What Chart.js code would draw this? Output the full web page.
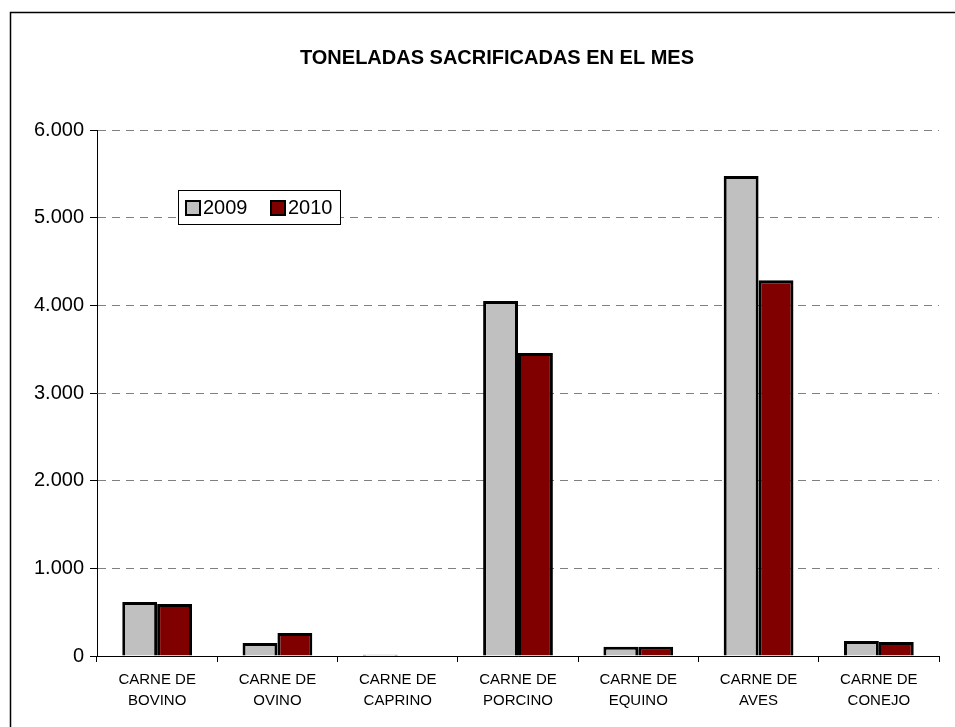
<!DOCTYPE html>
<html>
<head>
<meta charset="utf-8">
<script src="https://cdn.jsdelivr.net/npm/chart.js@4"></script>
<style>
    body { margin: 0; background: #fff; }
    canvas { display: block; }
</style>
</head>
<body>
<canvas id="chart" width="955" height="727"></canvas>
<script>
const categories = [
    ["CARNE DE", "BOVINO"],
    ["CARNE DE", "OVINO"],
    ["CARNE DE", "CAPRINO"],
    ["CARNE DE", "PORCINO"],
    ["CARNE DE", "EQUINO"],
    ["CARNE DE", "AVES"],
    ["CARNE DE", "CONEJO"]
];
const values2009 = [616, 148, 15, 4049, 106, 5475, 171];
const values2010 = [593, 262, 0, 3456, 105, 4285, 160];
const yTicks = [0, 1000, 2000, 3000, 4000, 5000, 6000];

const fontFamily = "'Liberation Sans', Arial, sans-serif";

function formatThousands(v) {
    return String(v).replace(/\B(?=(\d{3})+(?!\d))/g, ".");
}

// frame, title and the boxed legend are drawn by hand like the Excel original
const decorations = {
    id: "decorations",
    beforeDraw(chart) {
        const ctx = chart.ctx;
        ctx.save();
        ctx.fillStyle = "#fff";
        ctx.fillRect(0, 0, chart.width, chart.height);
        ctx.strokeStyle = "#000";
        ctx.lineWidth = 1.5;
        ctx.strokeRect(10.5, 12.5, 1000, 1000);
        ctx.restore();
    },
    afterDraw(chart) {
        const ctx = chart.ctx;
        ctx.save();
        ctx.fillStyle = "#000";
        ctx.font = "bold 20px " + fontFamily;
        ctx.textAlign = "center";
        ctx.textBaseline = "middle";
        ctx.fillText("TONELADAS SACRIFICADAS EN EL MES", 497, 58);

        // legend box
        ctx.fillStyle = "#fff";
        ctx.fillRect(178, 190, 162, 34);
        ctx.strokeStyle = "#000";
        ctx.lineWidth = 1;
        ctx.strokeRect(178.5, 190.5, 162, 34);

        const starts = [185, 270];
        ctx.font = "20px " + fontFamily;
        ctx.textAlign = "left";
        chart.data.datasets.forEach((ds, i) => {
            const x = starts[i];
            ctx.fillStyle = ds.backgroundColor;
            ctx.fillRect(x, 200, 16, 16);
            ctx.strokeStyle = "#000";
            ctx.lineWidth = 2;
            ctx.strokeRect(x + 1, 201, 14, 14);
            ctx.fillStyle = "#000";
            ctx.fillText(ds.label, x + 18, 208);
        });
        ctx.restore();
    }
};

new Chart(document.getElementById("chart"), {
    type: "bar",
    data: {
        labels: categories,
        datasets: [
            {
                label: "2009",
                data: values2009,
                backgroundColor: "#C0C0C0",
                borderColor: "#000",
                borderWidth: 3,
                barPercentage: 1,
                categoryPercentage: 0.58
            },
            {
                label: "2010",
                data: values2010,
                backgroundColor: "#800000",
                borderColor: "#000",
                borderWidth: 3,
                barPercentage: 1,
                categoryPercentage: 0.58
            }
        ]
    },
    options: {
        responsive: false,
        animation: false,
        layout: { padding: { top: 130, right: 16, left: 0, bottom: 0 } },
        plugins: {
            legend: { display: false },
            title: { display: false },
            tooltip: { enabled: false }
        },
        scales: {
            x: {
                afterFit(scale) { scale.height = 71; },
                grid: {
                    display: true,
                    drawOnChartArea: false,
                    offset: true,
                    tickLength: 6,
                    tickColor: "#000",
                    color: "#000"
                },
                border: { color: "#000", width: 1 },
                ticks: {
                    color: "#000",
                    padding: 7,
                    maxRotation: 0,
                    autoSkip: false,
                    font: { family: fontFamily, size: 15, lineHeight: 1.4 }
                }
            },
            y: {
                min: 0,
                max: 6000,
                afterFit(scale) { scale.width = 97; },
                afterBuildTicks(scale) { scale.ticks = yTicks.map(v => ({ value: v })); },
                grid: {
                    color: "#808080",
                    tickBorderDash: [1, 0],
                    tickColor: "#000",
                    tickLength: 7
                },
                border: { color: "#000", width: 1, dash: [8, 6] },
                ticks: {
                    color: "#000",
                    padding: 6,
                    font: { family: fontFamily, size: 20 },
                    callback: v => formatThousands(v)
                }
            }
        }
    },
    plugins: [decorations]
});
</script>
</body>
</html>
